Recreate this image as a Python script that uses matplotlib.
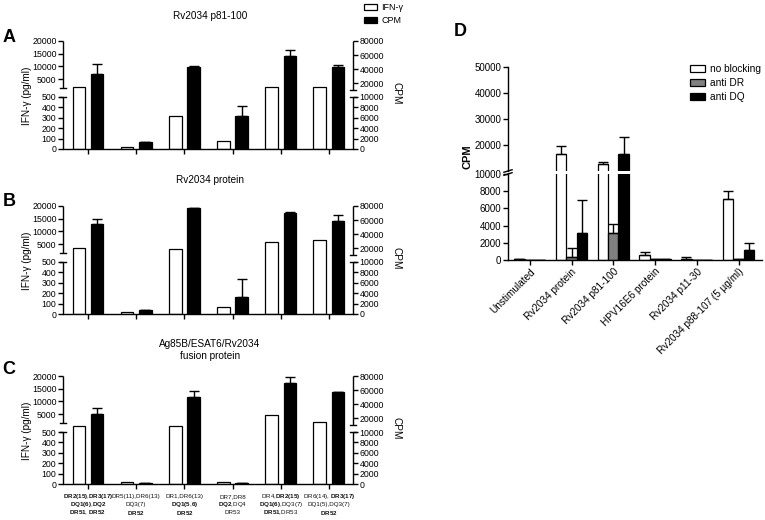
import numpy as np
import matplotlib
matplotlib.use('Agg')
import matplotlib.pyplot as plt

plt.rcParams['font.family'] = ['Liberation Sans', 'DejaVu Sans']
plt.rcParams['mathtext.fontset'] = 'custom'
plt.rcParams['mathtext.rm'] = 'Liberation Sans'
plt.rcParams['mathtext.bf'] = 'Liberation Sans:bold'
plt.rcParams['axes.linewidth'] = 1.0

# ---- data, panels A-C (IFN-g left axis, CPM right axis) ----
groups = np.arange(6)
ifn_a = [1800, 20, 315, 80, 1800, 1800]
cpm_a = [33300, 1400, 43300, 6350, 59000, 42400]
cpm_a_err = [13800, 0, 1500, 2000, 7700, 2900]

ifn_b = [3300, 15, 3000, 65, 6000, 6800]
cpm_b = [54300, 750, 76500, 3330, 70400, 59000]
cpm_b_err = [7100, 0, 0, 3400, 500, 8000]

ifn_c = [1150, 15, 1200, 15, 4500, 1700]
cpm_c = [26100, 150, 49600, 150, 70400, 57600]
cpm_c_err = [8600, 0, 9000, 0, 8500, 0]

left_ticks = [0, 100, 200, 300, 400, 500, 5000, 10000, 15000, 20000]
right_ticks = [0, 2000, 4000, 6000, 8000, 10000, 20000, 40000, 60000, 80000]

hla_labels = [
    [r"$\mathbf{DR2(15)}$,$\mathbf{DR3(17)}$", r"$\mathbf{DQ1(6)}$,$\mathbf{DQ2}$", r"$\mathbf{DR51}$, $\mathbf{DR52}$"],
    ["DR5(11),DR6(13)", "DQ3(7)", r"$\mathbf{DR52}$"],
    ["DR1,DR6(13)", r"$\mathbf{DQ1(5}$,$\mathbf{6)}$", r"$\mathbf{DR52}$"],
    ["DR7,DR8", r"$\mathbf{DQ2}$,DQ4", "DR53"],
    [r"DR4,$\mathbf{DR2(15)}$", r"$\mathbf{DQ1(6)}$,DQ3(7)", r"$\mathbf{DR51}$,DR53"],
    [r"DR6(14), $\mathbf{DR3(17)}$", "DQ1(5),DQ3(7)", r"$\mathbf{DR52}$"],
]

# ---- data, panel D ----
d_cats = ["Unstimulated", "Rv2034 protein", "Rv2034 p81-100",
          "HPV16E6 protein", "Rv2034 p11-30", "Rv2034 p88-107 (5 \u00b5g/ml)"]
d_none = [120, 16500, 12500, 575, 80, 7090]
d_none_err = [0, 3000, 800, 300, 220, 950]
d_dr = [30, 400, 3180, 60, 20, 150]
d_dr_err = [0, 950, 1000, 0, 0, 0]
d_dq = [40, 3180, 16600, 100, 20, 1150]
d_dq_err = [0, 3800, 6300, 0, 0, 770]

W, H = 765, 520
fig = plt.figure(figsize=(W / 100, H / 100), dpi=100)


def rect(x0, y0, x1, y1):
    return [x0 / W, 1 - y1 / H, (x1 - x0) / W, (y1 - y0) / H]


def piecewise(vals, pos):
    vals = np.asarray(vals, float)
    pos = np.asarray(pos, float)

    def ext(v, a, b):
        v = np.asarray(v, float)
        out = np.interp(v, a, b)
        s0 = (b[1] - b[0]) / (a[1] - a[0])
        s1 = (b[-1] - b[-2]) / (a[-1] - a[-2])
        out = np.where(v < a[0], b[0] + (v - a[0]) * s0, out)
        out = np.where(v > a[-1], b[-1] + (v - a[-1]) * s1, out)
        return out

    return (lambda v: ext(v, vals, pos)), (lambda p: ext(p, pos, vals))


def spine_piece(ax, x, y0, y1):
    ax.plot([x, x], [y0, y1], transform=ax.get_yaxis_transform(),
            color='k', lw=1.0, clip_on=False, solid_capstyle='butt')


def brk(ax, x, y):
    ax.plot([x - 0.009, x + 0.009], [y, y], transform=ax.get_yaxis_transform(),
            color='k', lw=1.0, clip_on=False)


def panel(top, ifn, cpm, err):
    ax = fig.add_axes(rect(63, top, 353, top + 108))
    axr = ax.twinx()
    ax.set_yscale('function', functions=piecewise([0, 500, 1500, 20000], [0, 52, 61, 108]))
    axr.set_yscale('function', functions=piecewise([0, 10000, 10000.01, 80000], [0, 52, 59, 108]))
    ax.set_ylim(0, 20000)
    axr.set_ylim(0, 80000)
    ax.set_xlim(-0.52, 5.5)

    bw = ax.bar(groups - 0.19, ifn, width=0.26, color='white', edgecolor='black', lw=0.9)
    bb = axr.bar(groups + 0.19, cpm, width=0.26, color='black', edgecolor='black', lw=0.9)
    axr.errorbar(groups + 0.19, cpm, yerr=[np.zeros(6), err], fmt='none',
                 ecolor='black', elinewidth=1.0, capsize=3.5, capthick=1.0)

    for s in ['top', 'right', 'left']:
        ax.spines[s].set_visible(False)
    for s in ['top', 'left', 'bottom', 'right']:
        axr.spines[s].set_visible(False)
    spine_piece(ax, 0, 0, 500)
    spine_piece(ax, 0, 1500, 20000)
    brk(ax, 0, 500)
    brk(ax, 0, 1500)
    spine_piece(axr, 1, 0, 10000)
    spine_piece(axr, 1, 10000.01, 80000)
    axr.plot([0.991, 1.009], [10000, 10000], transform=axr.get_yaxis_transform(),
             color='k', lw=1.0, clip_on=False)
    axr.plot([0.991, 1.009], [10000.01, 10000.01], transform=axr.get_yaxis_transform(),
             color='k', lw=1.0, clip_on=False)

    ax.set_yticks(left_ticks)
    ax.set_yticklabels([str(t) for t in left_ticks])
    axr.set_yticks(right_ticks)
    axr.set_yticklabels([str(t) for t in right_ticks])
    ax.set_xticks(groups)
    ax.set_xticklabels([])
    for a in (ax, axr):
        a.tick_params(axis='both', direction='out', length=3.5, width=1.0,
                      labelsize=6.3, pad=1.2)
    ax.yaxis.set_minor_locator(matplotlib.ticker.NullLocator())
    axr.yaxis.set_minor_locator(matplotlib.ticker.NullLocator())

    fig.text(27 / W, 1 - (top + 55) / H, 'IFN-\u03b3 (pg/ml)', rotation=90,
             ha='center', va='center', fontsize=7.2)
    fig.text(396 / W, 1 - (top + 52) / H, 'CPM', rotation=270,
             ha='center', va='center', fontsize=7.2)
    return ax, bw, bb


axA, bw, bb = panel(41, ifn_a, cpm_a, cpm_a_err)
axB, _, _ = panel(206, ifn_b, cpm_b, cpm_b_err)
axC, _, _ = panel(376, ifn_c, cpm_c, cpm_c_err)

for i, lines in enumerate(hla_labels):
    for j, txt in enumerate(lines):
        axC.annotate(txt, xy=(i, 0), xycoords=('data', 'axes fraction'),
                     xytext=(0, -9.0 - 5.8 * j), textcoords='offset points',
                     ha='center', va='center', fontsize=4.5, color='#111111')

fig.text(210 / W, 1 - 16 / H, 'Rv2034 p81-100', ha='center', va='center', fontsize=7.2)
fig.text(210 / W, 1 - 180 / H, 'Rv2034 protein', ha='center', va='center', fontsize=7.2)
fig.text(210 / W, 1 - 350 / H, 'Ag85B/ESAT6/Rv2034\nfusion protein', ha='center',
         va='center', fontsize=7.2, linespacing=1.15)
for lab, y in [('A', 37), ('B', 202), ('C', 370)]:
    fig.text(9 / W, 1 - y / H, lab, ha='center', va='center', fontsize=13, fontweight='bold')
fig.text(460 / W, 1 - 31 / H, 'D', ha='center', va='center', fontsize=13, fontweight='bold')

fig.legend([bw, bb], ['IFN-\u03b3', 'CPM'], loc='upper left',
           bbox_to_anchor=(364 / W, 1 - 3 / H), frameon=False, fontsize=6.5,
           handlelength=1.4, handleheight=0.75, handletextpad=0.5,
           labelspacing=0.45, borderpad=0, borderaxespad=0)

# ---- panel D, broken axis as two stacked axes ----
axDu = fig.add_axes(rect(508, 67, 762, 171))
axDl = fig.add_axes(rect(508, 174, 762, 260))
off = [-0.25, 0.0, 0.25]
series = [(d_none, d_none_err, 'white', 'no blocking'),
          (d_dr, d_dr_err, '#808080', 'anti DR'),
          (d_dq, d_dq_err, 'black', 'anti DQ')]
handles = []
for a in (axDu, axDl):
    handles = []
    for k, (vals, errs, col, lab) in enumerate(series):
        b = a.bar(groups + off[k], vals, width=0.25, color=col, edgecolor='black', lw=0.9)
        a.errorbar(groups + off[k], vals, yerr=[np.zeros(6), errs], fmt='none',
                   ecolor='black', elinewidth=1.0, capsize=3.5, capthick=1.0)
        handles.append(b)
    a.set_xlim(-0.52, 5.56)
    for s in ['top', 'right']:
        a.spines[s].set_visible(False)
    a.tick_params(axis='both', direction='out', length=3.5, width=1.0, labelsize=7, pad=1.2)

axDu.set_ylim(10000, 50000)
axDu.set_yticks([20000, 30000, 40000, 50000])
axDu.spines['bottom'].set_visible(False)
axDu.set_xticks([])
axDl.set_ylim(0, 10000)
axDl.set_yticks([0, 2000, 4000, 6000, 8000, 10000])
axDl.set_xticks(groups)
axDl.set_xticklabels(d_cats, rotation=45, ha='right', rotation_mode='anchor', fontsize=7.2)
axDu.plot([-0.016, 0.016], [-0.012, 0.012], transform=axDu.transAxes, color='k', lw=1, clip_on=False)
axDl.plot([-0.016, 0.016], [0.985, 1.015], transform=axDl.transAxes, color='k', lw=1, clip_on=False)
fig.text(467 / W, 1 - 157 / H, 'CPM', rotation=90, ha='center', va='center',
         fontsize=8, fontweight='bold')

fig.legend(handles, [s[3] for s in series], loc='upper left',
           bbox_to_anchor=(690 / W, 1 - 64 / H), frameon=False, fontsize=7.3,
           handlelength=1.5, handleheight=0.7, handletextpad=0.5,
           labelspacing=0.4, borderpad=0, borderaxespad=0)

fig.savefig('out.png', dpi=100)
